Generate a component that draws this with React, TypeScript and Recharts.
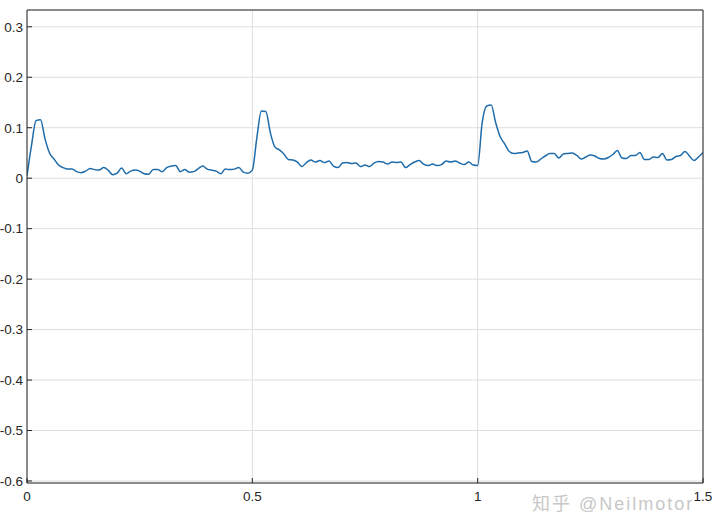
import { LineChart, Line, XAxis, YAxis, CartesianGrid } from 'recharts';

// sampled signal, one value every 0.01 s from 0 to 1.5
const dt = 0.01;
const signal = [
  0.005, 0.065, 0.114, 0.116, 0.078, 0.05, 0.038, 0.026, 0.021, 0.018,
  0.018, 0.013, 0.011, 0.014, 0.019, 0.017, 0.016, 0.021, 0.016, 0.007,
  0.01, 0.02, 0.009, 0.014, 0.016, 0.014, 0.009, 0.008, 0.017, 0.017,
  0.013, 0.021, 0.024, 0.025, 0.013, 0.017, 0.012, 0.013, 0.019, 0.024,
  0.018, 0.016, 0.014, 0.009, 0.018, 0.017, 0.018, 0.021, 0.012, 0.01,
  0.016, 0.08, 0.133, 0.132, 0.09, 0.062, 0.056, 0.048, 0.037, 0.036,
  0.032, 0.023, 0.031, 0.036, 0.032, 0.035, 0.031, 0.034, 0.024, 0.021,
  0.03, 0.031, 0.029, 0.03, 0.023, 0.026, 0.023, 0.03, 0.033, 0.032,
  0.028, 0.032, 0.031, 0.032, 0.021, 0.027, 0.032, 0.035, 0.028, 0.025,
  0.028, 0.025, 0.027, 0.034, 0.032, 0.034, 0.03, 0.027, 0.032, 0.026,
  0.025, 0.11, 0.143, 0.145, 0.11, 0.082, 0.068, 0.053, 0.049, 0.05,
  0.051, 0.054, 0.033, 0.032, 0.038, 0.044, 0.049, 0.049, 0.04, 0.048,
  0.049, 0.05, 0.045, 0.038, 0.042, 0.046, 0.044, 0.039, 0.038, 0.041,
  0.047, 0.055, 0.04, 0.039, 0.045, 0.045, 0.051, 0.037, 0.037, 0.042,
  0.041, 0.049, 0.036, 0.037, 0.043, 0.045, 0.053, 0.044, 0.035, 0.042,
  0.051,
];

const xTicks = [0, 0.5, 1, 1.5];
const yTicks = [-0.6, -0.5, -0.4, -0.3, -0.2, -0.1, 0, 0.1, 0.2, 0.3];
const xDomain = [0, 1.5];
const yDomain = [-0.604, 0.3333];

const watermark = '知乎 @Neilmotor';

const axisColor = '#262626';
const tickFont = { fontSize: 13.5, fontFamily: '"Liberation Sans", Arial, sans-serif', fill: axisColor };

const data = signal.map((v, i) => ({ t: +(i * dt).toFixed(2), v }));

const App = () => {
  return (
    <div style={{ position: 'absolute', left: 0, top: 0, width: 720, height: 530, background: '#fff' }}>
      <LineChart width={720} height={530} data={data} margin={{ top: 0, right: 0, bottom: 0, left: 0 }}>
        <CartesianGrid stroke="#dedede" strokeWidth={1} />
        <XAxis
          dataKey="t"
          type="number"
          domain={xDomain}
          ticks={xTicks}
          allowDataOverflow
          height={47}
          tickSize={-5}
          tickMargin={13}
          stroke={axisColor}
          tick={tickFont}
          tickLine={{ stroke: axisColor }}
          axisLine={{ stroke: axisColor }}
        />
        <XAxis
          xAxisId="top"
          orientation="top"
          type="number"
          domain={xDomain}
          ticks={xTicks}
          allowDataOverflow
          height={10}
          tickSize={-5}
          tick={false}
          stroke={axisColor}
          tickLine={{ stroke: axisColor }}
          axisLine={{ stroke: axisColor }}
        />
        <YAxis
          type="number"
          domain={yDomain}
          ticks={yTicks}
          allowDataOverflow
          width={27}
          tickSize={-5}
          tickMargin={9}
          stroke={axisColor}
          tick={tickFont}
          tickFormatter={(v: number) => String(v)}
          tickLine={{ stroke: axisColor }}
          axisLine={{ stroke: axisColor }}
        />
        <YAxis
          yAxisId="right"
          orientation="right"
          type="number"
          domain={yDomain}
          ticks={yTicks}
          allowDataOverflow
          width={17}
          tickSize={-5}
          tick={false}
          stroke={axisColor}
          tickLine={{ stroke: axisColor }}
          axisLine={{ stroke: axisColor }}
        />
        <Line
          type="monotone"
          dataKey="v"
          stroke="#1f6cab"
          strokeWidth={1.5}
          dot={false}
          isAnimationActive={false}
        />
      </LineChart>
      <div
        style={{
          position: 'absolute',
          left: 532,
          top: 489,
          fontSize: 18,
          letterSpacing: 2,
          color: '#c8c8c8',
          fontFamily: '"Liberation Sans", "Noto Sans CJK SC", sans-serif',
          whiteSpace: 'nowrap',
        }}
      >
        {watermark}
      </div>
    </div>
  );
};

export default App;
